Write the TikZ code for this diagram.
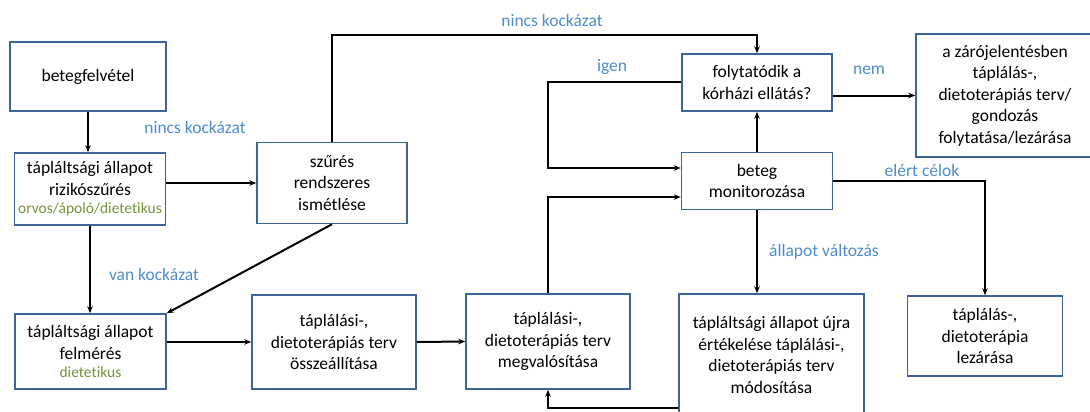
\documentclass[tikz,border=0pt]{standalone}
\usepackage{fontspec}
\setmainfont{Carlito}[Ligatures=NoCommon]
\usetikzlibrary{arrows.meta,positioning}
\definecolor{boxblue}{HTML}{3C6494}
\definecolor{labelblue}{HTML}{4E8CCB}
\definecolor{rolegreen}{HTML}{76923C}

\begin{document}
\begin{tikzpicture}[x=1pt,y=-1pt,>={Stealth[length=7pt,width=5.5pt]},
  box/.style={draw=boxblue,line width=1.5pt,align=center,inner sep=2pt,
    font=\fontsize{17.5}{21.5}\selectfont},
  lbl/.style={text=labelblue,font=\fontsize{17.5}{21}\selectfont},
  conn/.style={->,line width=2pt}]
\useasboundingbox (0,0) rectangle (1090,412);
\node[box,minimum width=156pt,minimum height=69pt] (felvetel) at (88,76.5) {betegfelvétel};
\node[box,minimum width=151pt,minimum height=72pt] (rizik) at (90,189) {tápláltsági állapot\\rizikószűrés\\[-3pt]\textcolor{rolegreen}{\fontsize{15.5}{16}\selectfont orvos/ápoló/dietetikus}};
\node[box,minimum width=150pt,minimum height=81pt] (szures) at (332,183) {szűrés\\rendszeres\\ismétlése};
\node[box,minimum width=151pt,minimum height=75pt] (felmeres) at (90.5,351.5) {tápláltsági állapot\\felmérés\\[-3pt]\textcolor{rolegreen}{\fontsize{15.5}{16}\selectfont dietetikus}};
\node[box,minimum width=164pt,minimum height=94pt] (osszeall) at (334,342) {táplálási-,\\dietoterápiás terv\\összeállítása};
\node[box,minimum width=164pt,minimum height=95pt] (megval) at (548,341.5) {táplálási-,\\dietoterápiás terv\\megvalósítása};
\node[box,minimum width=150pt,minimum height=57pt] (folyt) at (757,82.5) {folytatódik a\\kórházi ellátás?};
\node[box,minimum width=151pt,minimum height=57pt] (monitor) at (757,181) {beteg\\monitorozása};
\node[box,minimum width=178pt,minimum height=123pt] (zaro) at (1005,95.5) {a zárójelentésben\\táplálás-,\\dietoterápiás terv/\\gondozás\\folytatása/lezárása};
\node[box,minimum width=185pt,minimum height=122pt] (ujra) at (771.5,355) {tápláltsági állapot újra\\értékelése táplálási-,\\dietoterápiás terv\\módosítása};
\node[box,minimum width=155pt,minimum height=80pt] (lezaras) at (985,336) {táplálás-,\\dietoterápia\\lezárása};
\coordinate (kanyar) at (757,35);
% connectors
\draw[conn] (felvetel.south) -- (felvetel.south |- rizik.north);
\draw[conn] (rizik.east |- szures) -- (szures.west);
\draw[conn] (rizik.south) -- (rizik.south |- felmeres.north);
\draw[conn] (szures.south) -- (felmeres.north east);
\draw[conn] (szures.north) |- (kanyar) -- (folyt.north);
\draw[conn] (felmeres.east |- osszeall.west) -- (osszeall.west);
\draw[conn] (osszeall.east) -- (megval.west);
\draw[conn] (megval.north) |- ([yshift=-16pt]monitor.west);
\draw[conn] (folyt.west) -- ++(-133,0) |- ([yshift=13pt]monitor.west);
\draw[conn] (monitor.north) -- (folyt.south);
\draw[conn] (folyt.east |- zaro) -- (zaro.west);
\draw[conn] (monitor.east) -| (lezaras.north);
\draw[conn] (monitor.south) -- (monitor.south |- ujra.north);
\draw[conn] ([yshift=-53pt]ujra.west) -| (megval.south);
% labels
\node[lbl] (l_nincs) at (195,127) {nincs kockázat};
\node[lbl] (l_nincsfent) at (552,20) {nincs kockázat};
\node[lbl] (l_van) at (154,274) {van kockázat};
\node[lbl] (l_igen) at (612,67) {igen};
\node[lbl] (l_nem) at (869,70) {nem};
\node[lbl] (l_celok) at (922,170) {elért célok};
\node[lbl] (l_valtozas) at (824,252) {állapot változás};
\end{tikzpicture}
\end{document}
